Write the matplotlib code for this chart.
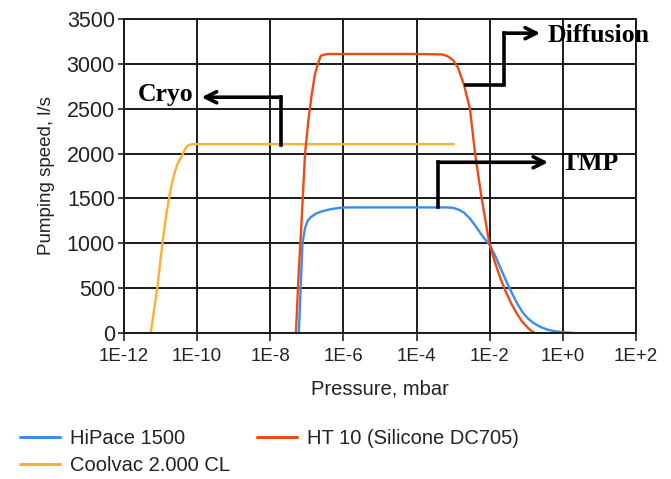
import numpy as np
import matplotlib
matplotlib.use("Agg")
import matplotlib.pyplot as plt

# pumping speed curves (log10 of pressure in mbar, l/s)
hipace_logp = [-7.22, -7.17, -7.12, -7.05, -6.98, -6.90, -6.75, -6.60, -6.35, -6.10, -5.90,
               -4.0, -3.2, -3.0, -2.85, -2.70, -2.55, -2.40, -2.25, -2.10, -2.00, -1.85,
               -1.70, -1.55, -1.40, -1.25, -1.10, -0.95, -0.80, -0.60, -0.40, -0.20, 0.0, 0.33]
hipace_speed = [0, 500, 1000, 1170, 1250, 1290, 1330, 1355, 1380, 1395, 1400,
                1400, 1400, 1395, 1375, 1340, 1280, 1200, 1110, 1030, 980, 860,
                720, 580, 450, 330, 230, 160, 110, 65, 35, 18, 8, 0]

ht10_logp = [-7.30, -7.22, -7.15, -7.05, -6.95, -6.87, -6.78, -6.70, -6.62, -6.50, -6.40,
             -4.0, -3.3, -3.15, -3.00, -2.87, -2.70, -2.54, -2.40, -2.22, -2.01, -1.85,
             -1.70, -1.55, -1.40, -1.25, -1.10, -0.95, -0.85, -0.76]
ht10_speed = [0, 700, 1200, 2000, 2400, 2650, 2880, 3000, 3090, 3105, 3110,
              3110, 3105, 3085, 3040, 2960, 2760, 2500, 2000, 1500, 1000, 780,
              600, 450, 320, 210, 120, 55, 20, 0]

coolvac_logp = [-11.27, -11.18, -11.09, -10.95, -10.85, -10.77, -10.70, -10.62, -10.55,
                -10.48, -10.42, -10.35, -10.28, -10.20, -10.10, -7.0, -2.98]
coolvac_speed = [0, 250, 500, 1000, 1300, 1500, 1650, 1780, 1870, 1930, 1975, 2030,
                 2080, 2100, 2105, 2105, 2105]

series_labels = ["HiPace 1500", "Coolvac 2.000 CL", "HT 10 (Silicone DC705)"]
series_colors = ["#3c8cf0", "#ffae35", "#ec4a16"]

xtick_exp = [-12, -10, -8, -6, -4, -2, 0, 2]
xtick_labels = ["1E-12", "1E-10", "1E-8", "1E-6", "1E-4", "1E-2", "1E+0", "1E+2"]
yticks = [0, 500, 1000, 1500, 2000, 2500, 3000, 3500]

# call-out brackets: path (log10 p, speed), arrow tip, label position
cryo_path = [(-7.71, 2100), (-7.71, 2628)]
cryo_tip = (-9.88, 2628)
cryo_text = (-10.11, 2660)
diff_path = [(-2.65, 2765), (-1.61, 2765), (-1.61, 3342)]
diff_tip = (-0.62, 3342)
diff_text = (-0.41, 3320)
tmp_path = [(-3.41, 1400), (-3.41, 1903)]
tmp_tip = (-0.40, 1903)
tmp_text = (-0.03, 1890)

W, H = 671, 479
fig = plt.figure(figsize=(W / 100, H / 100), dpi=100)
ax = fig.add_axes([124 / W, 1 - 333 / H, 512 / W, 314 / H])

curves = [(hipace_logp, hipace_speed), (coolvac_logp, coolvac_speed), (ht10_logp, ht10_speed)]
handles = []
for (lp, sp), lab, col in zip(curves, series_labels, series_colors):
    h, = ax.plot(10 ** np.array(lp), sp, color=col, lw=1.7, label=lab, solid_capstyle="round")
    handles.append(h)

ax.set_xscale("log")
ax.set_xlim(1e-12, 1e2)
ax.set_ylim(0, 3500)
ax.set_xticks([10.0 ** e for e in xtick_exp])
ax.set_xticklabels(xtick_labels)
ax.minorticks_off()
ax.set_yticks(yticks)
ax.grid(True, color="#1a1a1a", lw=1.4)
ax.set_axisbelow(True)
for s in ax.spines.values():
    s.set_color("#1a1a1a")
    s.set_linewidth(1.4)
ax.tick_params(axis="y", direction="inout", length=9, width=1.2, labelsize=15.5,
               colors="#222222", pad=2)
ax.tick_params(axis="x", direction="out", length=6, width=1.2, labelsize=13.5,
               colors="#222222", pad=5)
for t in ax.get_xticklabels() + ax.get_yticklabels():
    t.set_fontfamily("Liberation Sans")

ax.set_ylabel("Pumping speed, l/s", fontsize=13.5, family="Liberation Sans",
              color="#222222", labelpad=8)
ax.set_xlabel("Pressure, mbar", fontsize=14.5, family="Liberation Sans",
              color="#222222", labelpad=10)


def callout(path, tip, txt, pos, ha):
    xs = [10 ** p[0] for p in path]
    ys = [p[1] for p in path]
    ax.plot(xs, ys, color="black", lw=2.6, solid_joinstyle="miter", clip_on=False, zorder=5)
    ax.annotate("", xy=(10 ** tip[0], tip[1]), xytext=(xs[-1], ys[-1]),
                arrowprops=dict(arrowstyle="->,head_length=0.8,head_width=0.4",
                                color="black", lw=2.6, shrinkA=0, shrinkB=0),
                annotation_clip=False, zorder=5)
    ax.text(10 ** pos[0], pos[1], txt, ha=ha, va="center", family="Liberation Serif",
            fontweight="bold", fontsize=18.5, color="black", clip_on=False, zorder=6)


callout(cryo_path, cryo_tip, "Cryo", cryo_text, "right")
callout(diff_path, diff_tip, "Diffusion", diff_text, "left")
callout(tmp_path, tmp_tip, "TMP", tmp_text, "left")

leg = fig.legend(handles=handles, labels=series_labels, ncol=2, frameon=False,
                 loc="upper left", bbox_to_anchor=(20 / W, 1 - 429 / H),
                 prop={"family": "Liberation Sans", "size": 14.5},
                 handlelength=2.0, handletextpad=0.5, columnspacing=1.3,
                 labelspacing=0.4, borderpad=0, borderaxespad=0)
for line in leg.get_lines():
    line.set_linewidth(2.2)
for t in leg.get_texts():
    t.set_color("#222222")

fig.savefig("out.png", dpi=100, facecolor="white")
